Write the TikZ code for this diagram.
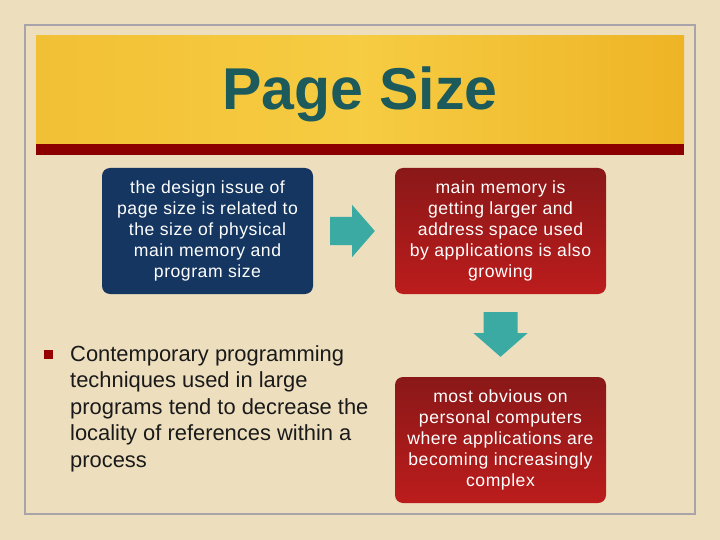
\documentclass[tikz,border=0pt]{standalone}
\usepackage{fontspec}
\setmainfont{Liberation Sans}
\newfontfamily\boxfont[LetterSpace=3]{Liberation Sans}
\usetikzlibrary{calc}
\definecolor{parch}{RGB}{237,222,190}
\definecolor{framegray}{RGB}{168,164,170}
\definecolor{goldA}{RGB}{242,192,52}
\definecolor{goldB}{RGB}{238,180,38}
\definecolor{goldM}{RGB}{246,204,66}
\definecolor{barred}{RGB}{140,0,0}
\definecolor{titleteal}{RGB}{28,90,92}
\definecolor{navy}{RGB}{20,54,96}
\definecolor{redtop}{RGB}{138,24,24}
\definecolor{redbot}{RGB}{188,28,28}
\definecolor{arrteal}{RGB}{58,170,162}
\definecolor{bullred}{RGB}{150,0,0}
\definecolor{bodytext}{RGB}{26,26,26}
\begin{document}
\begin{tikzpicture}[x=1pt,y=-1pt,
  box/.style={rounded corners=8pt, minimum width=211pt, minimum height=126pt,
    inner sep=0pt, text=white, align=center,
    font=\boxfont\fontsize{17.6}{20.9}\selectfont,
    execute at begin node=\rule{0pt}{16pt}},
  navybox/.style={box, fill=navy},
  redbox/.style={box, top color=redtop, bottom color=redbot},
  blockarrow/.style={fill=arrteal, draw=none}]
\useasboundingbox (0,0) rectangle (720,540);
% background
\fill[parch] (0,0) rectangle (720,540);
% frame
\draw[framegray, line width=2.2pt] (25,25) rectangle (695,514);
% title band
\shade[left color=goldA, right color=goldB, middle color=goldM] (36,36) rectangle (684,144);
\fill[barred] (36,144) rectangle (684,155);
\node[text=titleteal, font=\fontsize{59}{62}\selectfont\bfseries] (title) at (360,94) {Page Size};
% boxes
\node[navybox] (b1) at (207.5,231) {the design issue of\\page size is related to\\the size of physical\\main memory and\\program size};
\node[redbox] (b2) at (500.5,231) {main memory is\\getting larger and\\address space used\\by applications is also\\growing};
\node[redbox] (b3) at (500.5,440) {most obvious on\\personal computers\\where applications are\\becoming increasingly\\complex};
% right arrow between b1 and b2
\fill[blockarrow] ($(b1.east)+(17,-14)$) -- ($(b1.east)+(39,-14)$) -- ($(b1.east)+(39,-26)$)
  -- ($(b2.west)+(-20,0)$) -- ($(b1.east)+(39,26)$) -- ($(b1.east)+(39,14)$)
  -- ($(b1.east)+(17,14)$) -- cycle;
% down arrow between b2 and b3
\fill[blockarrow] ($(b2.south)+(-17,18)$) -- ($(b2.south)+(17,18)$) -- ($(b2.south)+(17,39)$)
  -- ($(b2.south)+(27,39)$) -- ($(b3.north)+(0,-20)$) -- ($(b2.south)+(-27,39)$)
  -- ($(b2.south)+(-17,39)$) -- cycle;
% bullet
\fill[bullred] (44,350) rectangle (53,359);
\node[anchor=north west, inner sep=0pt, text=bodytext, align=left,
  font=\fontsize{21.9}{26.5}\selectfont] (bul) at (70,345)
  {Contemporary programming\\techniques used in large\\programs tend to decrease the\\locality of references within a\\process};
\end{tikzpicture}
\end{document}
